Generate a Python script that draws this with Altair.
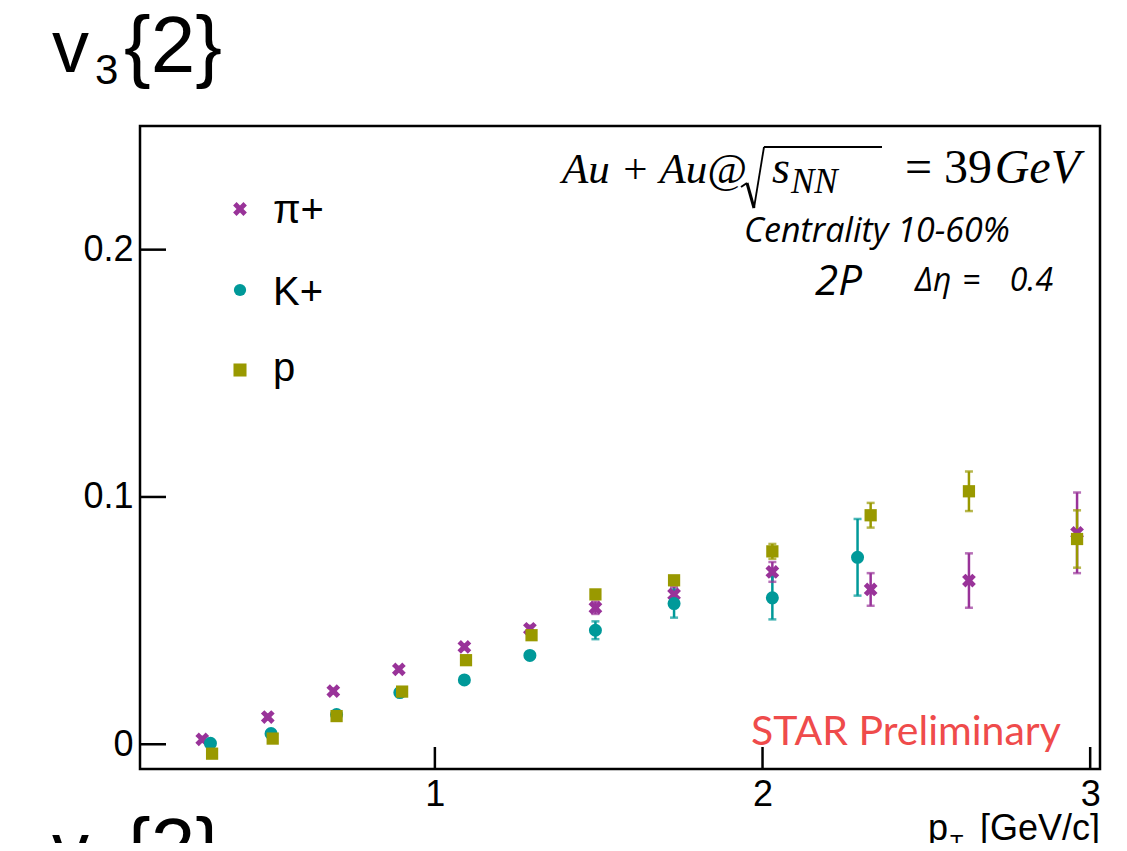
import altair as alt
import pandas as pd

# ---------------- data ----------------
species = ["π+", "K+", "p"]
colors = ["#993399", "#009999", "#999900"]

pi_pt = [0.29, 0.49, 0.69, 0.89, 1.09, 1.29, 1.49, 1.73, 2.03, 2.33, 2.63, 2.96]
pi_v3 = [0.0020, 0.0110, 0.0215, 0.0303, 0.0394, 0.0467, 0.0552, 0.0606, 0.0697, 0.0626, 0.0662, 0.0855]
pi_err = [0.0010, 0.0010, 0.0010, 0.0010, 0.0010, 0.0012, 0.0025, 0.0030, 0.0040, 0.0066, 0.0110, 0.0163]

k_pt = [0.315, 0.50, 0.70, 0.893, 1.09, 1.29, 1.49, 1.73, 2.03, 2.29]
k_v3 = [0.0004, 0.0043, 0.0120, 0.0209, 0.0260, 0.0359, 0.0461, 0.0569, 0.0592, 0.0756]
k_err = [0.0008, 0.0008, 0.0008, 0.0010, 0.0010, 0.0012, 0.0036, 0.0057, 0.0087, 0.0155]

p_pt = [0.32, 0.505, 0.70, 0.90, 1.095, 1.295, 1.49, 1.73, 2.03, 2.33, 2.63, 2.96]
p_v3 = [-0.0038, 0.0023, 0.0114, 0.0213, 0.0340, 0.0441, 0.0606, 0.0663, 0.0780, 0.0926, 0.1023, 0.0830]
p_err = [0.0008, 0.0008, 0.0008, 0.0008, 0.0010, 0.0010, 0.0012, 0.0015, 0.0030, 0.0050, 0.0080, 0.0116]

x_ticks = [1, 2, 3]
y_ticks = [0, 0.1, 0.2]
x_domain = [0.1, 3.03]
y_domain = [-0.01, 0.25]

# ---------------- build table ----------------
rows = []
for sp, pts, vs, es in [(species[0], pi_pt, pi_v3, pi_err),
                        (species[1], k_pt, k_v3, k_err),
                        (species[2], p_pt, p_v3, p_err)]:
    for a, b, e in zip(pts, vs, es):
        rows.append({"species": sp, "pt": a, "v": b, "lo": b - e, "hi": b + e})
df = pd.DataFrame(rows)

XPATH = "M-0.5,-1L0,-0.5L0.5,-1L1,-0.5L0.5,0L1,0.5L0.5,1L0,0.5L-0.5,1L-1,0.5L-0.5,0L-1,-0.5Z"

W, H = 960, 643
FONT = "Liberation Sans"
SERIF = "Liberation Serif"
SANS2 = "Open Sans"

xs = alt.Scale(domain=x_domain, nice=False, zero=False)
ys = alt.Scale(domain=y_domain, nice=False, zero=False)
col = alt.Color("species:N", scale=alt.Scale(domain=species, range=colors), legend=None)

xaxis = alt.Axis(values=x_ticks, title=None, ticks=False, domain=False, grid=False,
                 labelFontSize=36, labelFont=FONT, labelColor="black", labelPadding=8,
                 labelFlush=False, format=".1~f")
yaxis = alt.Axis(values=y_ticks, title=None, ticks=False, domain=False, grid=False,
                 labelFontSize=36, labelFont=FONT, labelColor="black", labelPadding=7,
                 format=".1~f")

base = alt.Chart(df)

err_rule = base.mark_rule(strokeWidth=2.5).encode(
    x=alt.X("pt:Q", scale=xs, axis=xaxis),
    y=alt.Y("lo:Q", scale=ys, axis=yaxis),
    y2="hi:Q",
    color=col,
)
cap_lo = base.mark_tick(orient="horizontal", size=8, thickness=2.5).encode(
    x=alt.X("pt:Q", scale=xs), y=alt.Y("lo:Q", scale=ys), color=col)
cap_hi = base.mark_tick(orient="horizontal", size=8, thickness=2.5).encode(
    x=alt.X("pt:Q", scale=xs), y=alt.Y("hi:Q", scale=ys), color=col)

points = base.mark_point(filled=True, opacity=1, strokeWidth=0).encode(
    x=alt.X("pt:Q", scale=xs),
    y=alt.Y("v:Q", scale=ys),
    color=col,
    shape=alt.Shape("species:N", scale=alt.Scale(domain=species, range=[XPATH, "circle", "square"]), legend=None),
    size=alt.Size("species:N", scale=alt.Scale(domain=species, range=[190, 150, 170]), legend=None),
)

# inward ticks (ROOT style)
xt = alt.Chart(pd.DataFrame({"t": x_ticks})).mark_rule(color="black", strokeWidth=2.5).encode(
    x=alt.X("t:Q", scale=xs), y=alt.value(H), y2=alt.value(H - 22))
yt = alt.Chart(pd.DataFrame({"t": y_ticks})).mark_rule(color="black", strokeWidth=2.5).encode(
    y=alt.Y("t:Q", scale=ys), x=alt.value(0), x2=alt.value(26))


def label(text, x, y, size, font=FONT, style="normal", align="left",
          baseline="alphabetic", color="black"):
    return alt.Chart(pd.DataFrame({"t": [text]})).mark_text(
        align=align, baseline=baseline, font=font, fontSize=size,
        fontStyle=style, color=color).encode(
        x=alt.value(x), y=alt.value(y), text="t:N")


def marker(shape, colr, size, x, y):
    return alt.Chart(pd.DataFrame({"t": [0]})).mark_point(
        shape=shape, filled=True, opacity=1, color=colr, size=size, strokeWidth=0).encode(
        x=alt.value(x), y=alt.value(y))


def seg(x1, y1, x2, y2, w):
    return alt.Chart(pd.DataFrame({"t": [0]})).mark_rule(color="black", strokeWidth=w).encode(
        x=alt.value(x1), y=alt.value(y1), x2=alt.value(x2), y2=alt.value(y2))


texts = [
    # panel title v3{2}
    label("v", -88, -54, 74),
    label("3", -45, -42, 42),
    label("{2}", -16, -54, 80),
    # next panel title (cut off)
    label("v", -88, 748, 74),
    label("2", -45, 760, 42),
    label("{2}", -16, 748, 80),
    # legend
    label("π+", 133, 97, 40),
    label("K+", 133, 179, 40),
    label("p", 133, 255, 40),
    # collision system
    label("Au + Au@", 422, 57, 43, font=SERIF, style="italic"),
    label("s", 632, 57, 46, font=SERIF, style="italic"),
    label("NN", 651, 67, 35, font=SERIF, style="italic"),
    label("= 39", 852, 57, 48, font=SERIF, align="right"),
    label("GeV", 940, 57, 48, font=SERIF, style="italic", align="right"),
    label("Centrality 10-60%", 604, 116, 34, font=SANS2, style="italic"),
    label("2P", 675, 169, 42, font=SANS2, style="italic"),
    label("Δη", 775, 165, 32, font=SANS2, style="italic"),
    label("=", 822, 165, 32, font=SANS2, style="italic"),
    label("0.4", 913, 165, 32, font=SANS2, style="italic", align="right"),
    label("STAR Preliminary", 611, 619, 41, font="Lato", color="#ef4b4b"),
    # x axis title
    label("p", 788, 714, 36),
    label("T", 810, 724, 22),
    label("[GeV/c]", 960, 714, 36, align="right"),
]

# square-root sign drawn as strokes
radical = [
    seg(601, 61, 607, 57, 2),
    seg(607, 57, 614, 82, 3),
    seg(614, 82, 624, 21, 1.8),
    seg(624, 21, 742, 21, 1.8),
]

legend_marks = [
    marker(XPATH, colors[0], 190, 100, 83),
    marker("circle", colors[1], 150, 100, 164),
    marker("square", colors[2], 170, 100, 244),
]

chart = alt.layer(
    err_rule, cap_lo, cap_hi, points, xt, yt, *radical, *legend_marks, *texts
).properties(
    width=W, height=H,
    padding={"left": 132, "top": 118, "right": 19, "bottom": 74},
    autosize=alt.AutoSizeParams(type="none"),
    background="white",
).configure_view(stroke="black", strokeWidth=2.5)

chart.save("out.html", embed_options={"renderer": "svg", "actions": False})
